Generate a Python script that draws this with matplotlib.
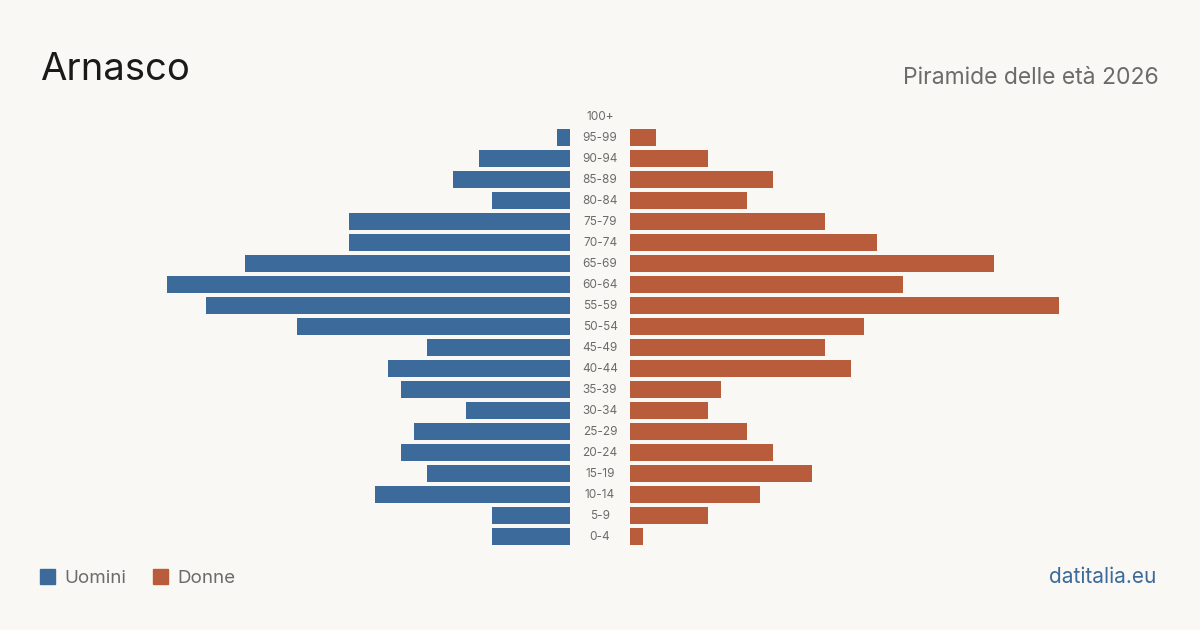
import matplotlib
matplotlib.use("Agg")
import matplotlib.pyplot as plt
from matplotlib.patches import Rectangle

plt.rcParams['font.family'] = ['Inter', 'DejaVu Sans']

age_groups = ["100+", "95-99", "90-94", "85-89", "80-84", "75-79", "70-74", "65-69",
              "60-64", "55-59", "50-54", "45-49", "40-44", "35-39", "30-34", "25-29",
              "20-24", "15-19", "10-14", "5-9", "0-4"]
men = [0, 1, 7, 9, 6, 17, 17, 25, 31, 28, 21, 11, 14, 13, 8, 12, 13, 11, 15, 6, 6]
women = [0, 2, 6, 11, 9, 15, 19, 28, 21, 33, 18, 15, 17, 7, 6, 9, 11, 14, 10, 6, 1]

title = "Arnasco"
subtitle = "Piramide delle età 2026"
legend_labels = ["Uomini", "Donne"]
source = "datitalia.eu"

BG = "#f9f8f4"
BLUE = "#3b6a9b"
ORANGE = "#b95c3b"
GREY = "#6b6b6b"

W, H = 1200, 630
fig = plt.figure(figsize=(12, 6.3), dpi=100, facecolor=BG)

unit_px = 13.0
top_px, bot_px = 105.5, 546.5
n = len(age_groups)

def fx(px):
    return px / W

def fy(py):
    return 1 - py / H

ax_h = (bot_px - top_px) / H
ax_b = fy(bot_px)

axL = fig.add_axes([fx(40), ax_b, fx(530), ax_h])
axR = fig.add_axes([fx(630), ax_b, fx(530), ax_h])
ypos = list(range(n))
for ax, vals, col in ((axL, men, BLUE), (axR, women, ORANGE)):
    ax.barh(ypos, vals, height=17 / 21, color=col)
    ax.set_xlim(0, 530 / unit_px)
    ax.set_ylim(n - 0.5, -0.5)
    ax.axis('off')
    ax.set_facecolor('none')
axL.invert_xaxis()

for i, lab in enumerate(age_groups):
    y = 117 + 21 * i
    fig.text(fx(600), fy(y), lab, ha='center', va='center', fontsize=8.5, color=GREY)

fig.text(fx(40), fy(80), title, ha='left', va='baseline', fontsize=27.5, color="#1a1a1a")
fig.text(fx(1159), fy(84), subtitle, ha='right', va='baseline', fontsize=16.5, color=GREY)

# legend
for xs, lab, col in ((40, legend_labels[0], BLUE), (153, legend_labels[1], ORANGE)):
    fig.patches.append(Rectangle((fx(xs), fy(584)), fx(15), 15 / H, transform=fig.transFigure,
                                 color=col, figure=fig))
    fig.text(fx(xs + 24), fy(583), lab, ha='left', va='baseline', fontsize=13.5, color=GREY)

fig.text(fx(1156), fy(583), source, ha='right', va='baseline', fontsize=15, color=BLUE)

fig.savefig("out.png", dpi=100, facecolor=BG)
